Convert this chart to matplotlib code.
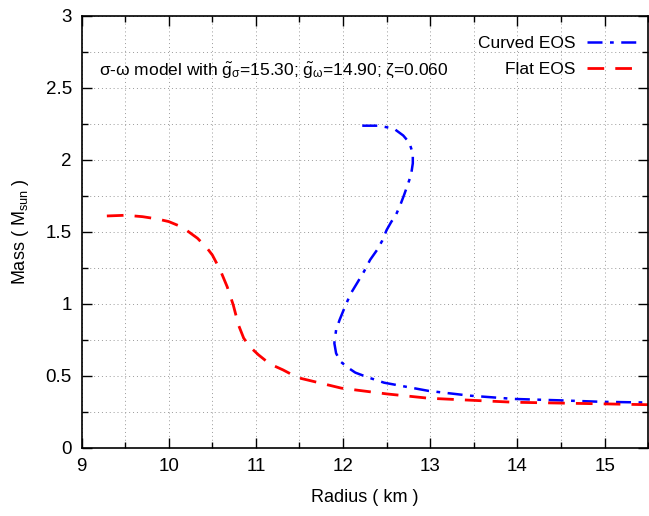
import matplotlib
matplotlib.use("Agg")
import matplotlib.pyplot as plt
from matplotlib.ticker import MultipleLocator

plt.rcParams['font.family'] = ['Liberation Sans', 'DejaVu Sans']
plt.rcParams['mathtext.fontset'] = 'custom'
plt.rcParams['mathtext.rm'] = 'Liberation Sans'
plt.rcParams['mathtext.it'] = 'Liberation Sans'

# curved EOS (blue, dash-dot)
curved_r = [12.22, 12.41, 12.52, 12.60, 12.69, 12.76, 12.80, 12.80, 12.78, 12.74,
            12.70, 12.66, 12.61, 12.55, 12.50, 12.45, 12.39, 12.31, 12.24, 12.16,
            12.09, 12.03, 11.96, 11.92, 11.90, 11.92, 11.97, 12.05, 12.14, 12.28,
            12.47, 12.71, 12.98, 13.45, 13.96, 14.5, 14.97, 15.5]
curved_m = [2.238, 2.238, 2.225, 2.21, 2.17, 2.12, 2.046, 1.977, 1.896, 1.826,
            1.757, 1.693, 1.623, 1.567, 1.514, 1.44, 1.375, 1.306, 1.225, 1.144,
            1.074, 0.993, 0.889, 0.819, 0.727, 0.657, 0.60, 0.56, 0.523, 0.491,
            0.453, 0.426, 0.396, 0.363, 0.34, 0.33, 0.32, 0.315]

# flat EOS (red, dashed)
flat_r = [9.29, 9.51, 9.70, 9.87, 10.0, 10.12, 10.21, 10.33, 10.44, 10.50,
          10.59, 10.67, 10.74, 10.80, 10.86, 10.93, 11.03, 11.16, 11.31, 11.48,
          11.98, 12.5, 12.98, 13.5, 13.96, 14.97, 15.5]
flat_m = [1.611, 1.616, 1.606, 1.59, 1.572, 1.542, 1.509, 1.456, 1.387, 1.34,
          1.236, 1.12, 0.993, 0.854, 0.762, 0.703, 0.646, 0.583, 0.542, 0.488,
          0.415, 0.375, 0.345, 0.33, 0.317, 0.306, 0.30]

xticks = [9, 10, 11, 12, 13, 14, 15]
yticks = [0, 0.5, 1, 1.5, 2, 2.5, 3]
ytick_labels = ['0', '0.5', '1', '1.5', '2', '2.5', '3']

fig = plt.figure(figsize=(6.49, 5.16), dpi=100)
ax = fig.add_axes([0.1257, 0.132, 0.873, 0.837])

ax.plot(curved_r, curved_m, color='blue', lw=1.8, linestyle=(0, (6, 3, 1.5, 3)),
        label='Curved EOS')
ax.plot(flat_r, flat_m, color='red', lw=2.0, linestyle=(0, (6, 4)),
        label='Flat EOS')

ax.set_xlim(9, 15.5)
ax.set_ylim(0, 3)
ax.set_xticks(xticks)
ax.set_yticks(yticks)
ax.set_yticklabels(ytick_labels)
ax.xaxis.set_minor_locator(MultipleLocator(0.5))
ax.yaxis.set_minor_locator(MultipleLocator(0.25))
ax.tick_params(which='both', direction='in', top=True, right=True, labelsize=13.5, pad=7)
ax.tick_params(which='major', length=7, width=1)
ax.tick_params(which='minor', length=4, width=1)
ax.grid(True, which='both', linestyle=(0, (1, 3)), color='#999999', lw=0.7)
for s in ax.spines.values():
    s.set_linewidth(1.2)

ax.set_xlabel('Radius ( km )', fontsize=13)
ax.set_ylabel(r'Mass ( M$_{\mathrm{sun}}$ )', fontsize=13)
ax.xaxis.set_label_coords(0.5, -0.095)
ax.yaxis.set_label_coords(-0.09, 0.5)

ax.text(0.03, 0.875, r'σ-ω model with $\tilde{\mathrm{g}}_{σ}$=15.30; $\tilde{\mathrm{g}}_{ω}$=14.90; ζ=0.060',
        transform=ax.transAxes, fontsize=12.5, va='center', ha='left')

leg = ax.legend(loc='upper right', bbox_to_anchor=(1.012, 0.99), frameon=False,
                fontsize=12.5, markerfirst=False, handlelength=3.0, labelspacing=0.6,
                handletextpad=0.7)
for t in leg.get_texts():
    t.set_ha('right')

fig.savefig('out.png', dpi=100)
